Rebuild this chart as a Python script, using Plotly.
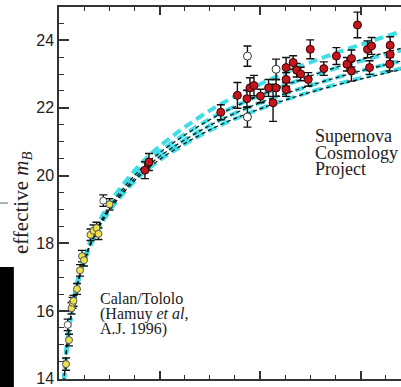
import plotly.graph_objects as go

# ---- model curves ----
z_model = [0.008, 0.01, 0.015, 0.02, 0.03, 0.04, 0.05, 0.07, 0.1, 0.15, 0.2, 0.3, 0.4, 0.5, 0.6, 0.7]
m_flat_0_1 = [13.49, 13.98, 14.87, 15.51, 16.41, 17.06, 17.56, 18.33, 19.17, 20.14, 20.86, 21.92, 22.70, 23.34, 23.87, 24.34]
m_flat_05_05 = [13.49, 13.97, 14.86, 15.49, 16.39, 17.02, 17.52, 18.27, 19.09, 20.02, 20.70, 21.67, 22.37, 22.93, 23.38, 23.77]
m_1_0 = [13.48, 13.97, 14.85, 15.48, 16.36, 16.99, 17.48, 18.22, 19.01, 19.91, 20.56, 21.48, 22.15, 22.66, 23.09, 23.45]
m_flat_15_m05 = [13.47, 13.96, 14.84, 15.46, 16.34, 16.96, 17.44, 18.17, 18.94, 19.82, 20.45, 21.33, 21.97, 22.47, 22.88, 23.23]
m_0_0 = [13.48, 13.97, 14.86, 15.49, 16.38, 17.01, 17.51, 18.26, 19.07, 20.00, 20.67, 21.65, 22.37, 22.94, 23.42, 23.84]
m_2_0 = [13.48, 13.96, 14.84, 15.47, 16.35, 16.97, 17.46, 18.19, 18.96, 19.84, 20.47, 21.35, 21.97, 22.46, 22.85, 23.19]

# ---- Calan/Tololo ----
ct_z = [0.0139, 0.0199, 0.0249, 0.0269, 0.0289, 0.0358, 0.0418, 0.0458, 0.0498, 0.0627, 0.0687, 0.0746, 0.0786, 0.1005]
ct_m = [14.43, 15.14, 16.08, 16.24, 16.30, 16.65, 17.20, 17.62, 17.50, 18.25, 18.37, 18.45, 18.28, 19.15]
ct_err = [0.18, 0.17, 0.17, 0.16, 0.16, 0.16, 0.17, 0.17, 0.17, 0.17, 0.17, 0.17, 0.17, 0.17]
ct_open_z = [0.0173, 0.0882]
ct_open_m = [15.59, 19.26]
ct_open_err = [0.17, 0.17]

# ---- Supernova Cosmology Project ----
scp_z = [0.171, 0.179, 0.322, 0.355, 0.374, 0.380, 0.388, 0.401, 0.417, 0.432, 0.426,
         0.452, 0.452, 0.452, 0.466, 0.473, 0.481, 0.496, 0.500, 0.527, 0.552, 0.573,
         0.582, 0.582, 0.594, 0.614, 0.622, 0.618, 0.659, 0.659, 0.658]
scp_m = [20.16, 20.40, 21.87, 22.37, 22.27, 22.59, 22.66, 22.35, 22.59, 22.59, 22.15,
         23.19, 22.84, 22.54, 23.34, 23.11, 23.00, 22.84, 23.73, 23.16, 23.53, 23.29,
         23.46, 23.09, 24.45, 23.73, 23.83, 23.19, 23.85, 23.58, 23.29]
scp_err = [0.25, 0.25, 0.22, 0.38, 0.25, 0.30, 0.30, 0.20, 0.25, 0.25, 0.55,
           0.30, 0.20, 0.20, 0.20, 0.20, 0.20, 0.20, 0.28, 0.20, 0.25, 0.20,
           0.25, 0.30, 0.38, 0.25, 0.25, 0.20, 0.25, 0.20, 0.20]
scp_open_z = [0.375, 0.375, 0.432]
scp_open_m = [23.53, 21.73, 23.14]
scp_open_err = [0.30, 0.30, 0.30]

CYAN = "#3fdde6"
SERIF = "Liberation Serif"
SANS = "Liberation Sans"

fig = go.Figure()

for m in [m_flat_0_1, m_flat_05_05, m_1_0, m_flat_15_m05]:
    fig.add_trace(go.Scatter(x=z_model, y=m, mode="lines", line_shape="spline",
                             line=dict(color=CYAN, width=4, dash="9px,5px"),
                             showlegend=False, hoverinfo="skip"))
for m in [m_0_0, m_1_0, m_2_0]:
    fig.add_trace(go.Scatter(x=z_model, y=m, mode="lines", line_shape="spline",
                             line=dict(color="#111111", width=1.2, dash="4px,3px"),
                             showlegend=False, hoverinfo="skip"))

def pts(x, y, e, fill, edge, size):
    return go.Scatter(x=x, y=y, mode="markers",
                      error_y=dict(type="data", array=e, visible=True, color="#111111",
                                   thickness=1.4, width=4),
                      marker=dict(color=fill, size=size, line=dict(color=edge, width=1)),
                      showlegend=False)

fig.add_trace(pts(ct_open_z, ct_open_m, ct_open_err, "white", "#555555", 7))
fig.add_trace(pts(ct_z, ct_m, ct_err, "#eee24c", "#555555", 7))
fig.add_trace(pts(scp_open_z, scp_open_m, scp_open_err, "white", "#333333", 8))
fig.add_trace(pts(scp_z, scp_m, scp_err, "#c4161c", "#3a0000", 8))

# text
lines_scp = [("Supernova", 21.16), ("Cosmology", 20.67), ("Project", 20.18)]
for t, yy in lines_scp:
    fig.add_annotation(x=0.5055, y=yy, xref="x", yref="y", text=t, showarrow=False,
                       xanchor="left", yanchor="middle",
                       font=dict(family=SERIF, size=18, color="#222222"))
lines_ct = [("Calan/Tololo", 16.36), ("(Hamuy <i>et al</i>,", 15.92), ("A.J. 1996)", 15.48)]
for t, yy in lines_ct:
    fig.add_annotation(x=0.0776, y=yy, xref="x", yref="y", text=t, showarrow=False,
                       xanchor="left", yanchor="middle",
                       font=dict(family=SERIF, size=16, color="#222222"))

fig.add_annotation(x=-0.108, y=0.473, xref="paper", yref="paper",
                   text="effective <i>m<sub>B</sub></i>", textangle=-90, showarrow=False,
                   xanchor="center", yanchor="middle",
                   font=dict(family=SERIF, size=21, color="#222222"))

# cropped neighbouring-panel fragments at far left
fig.add_shape(type="rect", xref="paper", yref="paper", x0=-0.1725, x1=-0.132,
              y0=-0.03, y1=0.301, fillcolor="black", line=dict(width=0), layer="above")
fig.add_shape(type="line", xref="paper", yref="paper", x0=-0.1725, x1=-0.149,
              y0=0.473, y1=0.473, line=dict(color="#999999", width=1.5))

fig.update_layout(
    width=401, height=387,
    margin=dict(l=59, r=0, t=7, b=8, autoexpand=False),
    paper_bgcolor="white", plot_bgcolor="white",
    xaxis=dict(range=[0, 0.6806], showgrid=False, zeroline=False, automargin=False,
               showline=True, linecolor="#333333", linewidth=1.5, mirror="ticks",
               ticks="inside", ticklen=8, tickwidth=1.5, tickcolor="#333333",
               dtick=0.2, tick0=0, showticklabels=False,
               minor=dict(dtick=0.05, ticks="inside", ticklen=4, tickwidth=1.2,
                          tickcolor="#333333")),
    yaxis=dict(range=[13.99, 24.98], showgrid=False, zeroline=False, automargin=False,
               showline=True, linecolor="#333333", linewidth=1.5,
               ticks="inside", ticklen=10, tickwidth=1.5, tickcolor="#333333",
               tickvals=[14, 16, 18, 20, 22, 24], ticklabeloverflow="allow",
               tickfont=dict(family=SANS, size=16, color="#222222"),
               minor=dict(dtick=0.5, ticks="inside", ticklen=5, tickwidth=1.2,
                          tickcolor="#333333")),
)

fig.write_html("out.html", config={"displayModeBar": False},
               post_script="document.body.style.margin='0';document.body.style.padding='0';")
